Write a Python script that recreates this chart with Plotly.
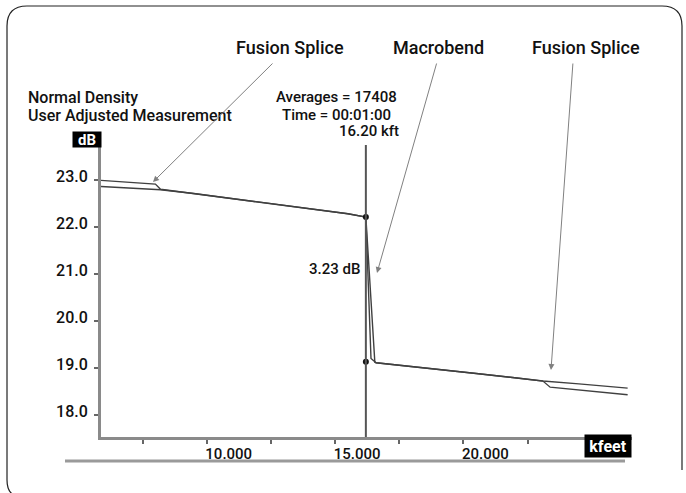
import plotly.graph_objects as go

# ---- data ----
dist_a = [5.88, 7.0, 8.0, 8.2, 9.5, 11.0, 12.5, 14.0, 15.5, 16.2, 16.3, 16.4, 16.6, 17.5, 19.0, 20.5, 22.0, 23.1, 24.5, 26.4]
loss_a = [22.99, 22.95, 22.91, 22.80, 22.71, 22.60, 22.49, 22.39, 22.28, 22.21, 20.6, 19.2, 19.11, 19.06, 18.97, 18.88, 18.79, 18.72, 18.66, 18.57]
dist_b = [5.88, 7.0, 8.0, 8.2, 9.5, 11.0, 12.5, 14.0, 15.5, 16.2, 16.35, 16.55, 16.6, 17.5, 19.0, 20.5, 22.0, 23.1, 23.38, 24.5, 26.4]
loss_b = [22.86, 22.82, 22.79, 22.79, 22.71, 22.60, 22.49, 22.39, 22.28, 22.21, 20.8, 19.12, 19.11, 19.06, 18.97, 18.88, 18.79, 18.72, 18.59, 18.53, 18.43]
event_x = [16.2, 16.2]
event_y = [22.21, 19.13]
x_tickvals = [7.5, 10, 12.5, 15, 17.5, 20, 22.5, 25]
x_ticktext = ["", "10.000", "", "15.000", "", "20.000", "", ""]
y_tickvals = [18, 19, 20, 21, 22, 23]
y_ticktext = ["18.0", "19.0", "20.0", "21.0", "22.0", "23.0"]

W, H = 686, 493
L, R, T, B = 101, 54, 147, 56
PW, PH = W - L - R, H - T - B
def px(x): return (x - L) / PW
def py(y): return (H - B - y) / PH

FONT = "Roboto, Liberation Sans, sans-serif"
TXT = "#111"
LINE = "#404040"

fig = go.Figure()
fig.add_trace(go.Scatter(x=dist_a, y=loss_a, mode="lines", line=dict(color=LINE, width=1.4), showlegend=False))
fig.add_trace(go.Scatter(x=dist_b, y=loss_b, mode="lines", line=dict(color=LINE, width=1.4), showlegend=False))
fig.add_trace(go.Scatter(x=event_x, y=event_y, mode="markers", marker=dict(color="#111", size=6), showlegend=False))

# cursor line
fig.add_shape(type="line", xref="x", yref="paper", x0=16.2, x1=16.2, y0=0, y1=py(145),
              line=dict(color="#555", width=2))
# second baseline below axis
fig.add_shape(type="line", xref="paper", yref="paper", x0=px(65), x1=px(625), y0=py(461), y1=py(461),
              line=dict(color="#9a9a9a", width=3))
# rounded frame
def P(x, y): return f"{px(x):.5f},{py(y):.5f}"
fig.add_shape(type="path", xref="paper", yref="paper",
              path=(f"M {P(16,496)} Q {P(7,493)} {P(7,480)} L {P(7,26)} Q {P(7,6)} {P(27,6)} "
                    f"L {P(662,6)} Q {P(682,6)} {P(682,26)} L {P(682,470)}"),
              line=dict(color="#222", width=1.2))

anns = []
def txt(t, x, y, size=15, xanchor="center", color=TXT, bg=None, weight=500, box=None):
    d = dict(text=t, x=px(x), y=py(y), xref="paper", yref="paper", showarrow=False,
             xanchor=xanchor, yanchor="middle",
             font=dict(family=FONT, size=size, color=color, weight=weight))
    if bg:
        d.update(bgcolor=bg, borderpad=0)
    if box:
        d.update(width=box[0], height=box[1], align="center", valign="middle")
    anns.append(d)

txt("Fusion Splice", 290, 47, 18)
txt("Macrobend", 438, 47, 18)
txt("Fusion Splice", 586, 47, 18)
txt("Normal Density", 26, 97, 16, "left")
txt("User Adjusted Measurement", 26, 115, 16, "left")
txt("Averages = 17408", 336, 97, 15)
txt("Time = 00:01:00", 336, 115, 15)
txt("16.20 kft", 369, 131, 15)
txt("3.23 dB", 334, 269, 15)
txt("dB", 87, 139.5, 15, color="white", bg="black", weight=700, box=(28, 15))
txt("kfeet", 608, 446, 16, color="white", bg="black", weight=700, box=(46, 22))

# arrows (tail offsets in pixels)
for (x0, y0, x1, y1) in [(274, 62, 153, 182), (437, 62, 377, 273), (573, 62, 551, 370)]:
    anns.append(dict(x=px(x1), y=py(y1), ax=x0 - x1, ay=y0 - y1, xref="paper", yref="paper",
                     axref="pixel", ayref="pixel", showarrow=True, arrowhead=2, arrowsize=1.2,
                     arrowwidth=1, arrowcolor="#808080", text=""))

fig.update_layout(
    width=W, height=H, margin=dict(l=L, r=R, t=T, b=B),
    paper_bgcolor="white", plot_bgcolor="white",
    annotations=anns, font=dict(family=FONT, color=TXT),
    xaxis=dict(range=[5.88, 26.57], showgrid=False, zeroline=False, showline=True,
               linecolor="#8a8a8a", linewidth=3, ticks="outside", ticklen=4, tickwidth=2,
               tickcolor="#666", tickvals=x_tickvals, ticktext=x_ticktext,
               tickfont=dict(family=FONT, size=15, color=TXT, weight=500),
               ticklabelshift=22, ticklabelstandoff=-3),
    yaxis=dict(range=[17.53, 23.70], showgrid=False, zeroline=False, showline=True,
               linecolor="#8a8a8a", linewidth=3, ticks="outside", ticklen=4, tickwidth=2,
               tickcolor="#666", tickvals=y_tickvals, ticktext=y_ticktext,
               tickfont=dict(family=FONT, size=16, color=TXT, weight=500),
               ticklabelshift=-4, ticklabelstandoff=3),
)
fig.write_html("out.html")
